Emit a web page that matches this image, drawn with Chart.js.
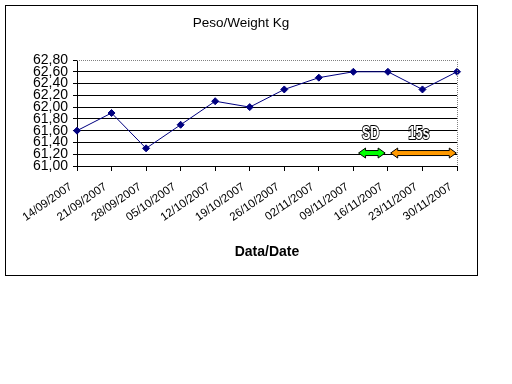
<!DOCTYPE html>
<html>
<head>
<meta charset="utf-8">
<script src="https://cdn.jsdelivr.net/npm/chart.js@4/dist/chart.umd.min.js"></script>
<style>
  body { margin: 0; background: #fff; }
  #wrap { width: 512px; height: 384px; }
</style>
</head>
<body>
<div id="wrap"><canvas id="weightChart" width="512" height="384"></canvas></div>
<script>
// Données
const dates = ['14/09/2007', '21/09/2007', '28/09/2007', '05/10/2007', '12/10/2007', '19/10/2007',
               '26/10/2007', '02/11/2007', '09/11/2007', '16/11/2007', '23/11/2007', '30/11/2007'];
const weights = [61.6, 61.9, 61.3, 61.7, 62.1, 62.0, 62.3, 62.5, 62.6, 62.6, 62.3, 62.6];
const yTicks = [61.0, 61.2, 61.4, 61.6, 61.8, 62.0, 62.2, 62.4, 62.6, 62.8];

// Annotations (flèches SD / 15s), en unités de l'axe
const notes = [
    { label: 'SD',  from: 8.15, to: 8.92, textAt: 8.5,  color: '#00ff00' },
    { label: '15s', from: 9.08, to: 10.98, textAt: 9.9,  color: '#ff9900' }
];
const arrowLevel = 61.22;
const textLevel = 61.54;

function drawArrow(ctx, x1, x2, y, color) {
    const hl = 7, hh = 5, sh = 2.5;
    ctx.beginPath();
    ctx.moveTo(x1, y);
    ctx.lineTo(x1 + hl, y - hh);
    ctx.lineTo(x1 + hl, y - sh);
    ctx.lineTo(x2 - hl, y - sh);
    ctx.lineTo(x2 - hl, y - hh);
    ctx.lineTo(x2, y);
    ctx.lineTo(x2 - hl, y + hh);
    ctx.lineTo(x2 - hl, y + sh);
    ctx.lineTo(x1 + hl, y + sh);
    ctx.lineTo(x1 + hl, y + hh);
    ctx.closePath();
    ctx.fillStyle = color;
    ctx.fill();
    ctx.strokeStyle = '#000';
    ctx.lineWidth = 1;
    ctx.stroke();
}

const decorPlugin = {
    id: 'decor',
    beforeDraw(chart) {
        const ctx = chart.ctx;
        ctx.save();
        ctx.fillStyle = '#fff';
        ctx.fillRect(0, 0, chart.width, chart.height);
        ctx.strokeStyle = '#000';
        ctx.lineWidth = 1;
        ctx.strokeRect(5.5, 5.5, 472, 270);
        // titre
        ctx.fillStyle = '#000';
        ctx.font = '13.5px "Liberation Sans", Arial, sans-serif';
        ctx.textAlign = 'center';
        ctx.textBaseline = 'middle';
        ctx.fillText('Peso/Weight Kg', 241, 23);
        ctx.restore();
    },
    afterDraw(chart) {
        const ctx = chart.ctx;
        const a = chart.chartArea;
        const x = chart.scales.x, y = chart.scales.y;
        ctx.save();
        // bordure pointillée de la zone de tracé
        ctx.strokeStyle = '#808080';
        ctx.lineWidth = 1;
        ctx.setLineDash([1, 1]);
        ctx.beginPath();
        ctx.moveTo(a.left, Math.round(a.top) + 0.5);
        ctx.lineTo(Math.round(a.right) + 0.5, Math.round(a.top) + 0.5);
        ctx.lineTo(Math.round(a.right) + 0.5, a.bottom);
        ctx.stroke();
        ctx.setLineDash([]);

        const ya = y.getPixelForValue(arrowLevel);
        const yt = y.getPixelForValue(textLevel);
        notes.forEach(n => {
            drawArrow(ctx, x.getPixelForValue(n.from), x.getPixelForValue(n.to), ya, n.color);
            ctx.save();
            ctx.translate(x.getPixelForValue(n.textAt), yt);
            ctx.scale(0.7, 1);
            ctx.font = 'bold 18px "Liberation Sans", Arial, sans-serif';
            ctx.textAlign = 'center';
            ctx.textBaseline = 'middle';
            ctx.lineWidth = 2;
            ctx.strokeStyle = '#000';
            ctx.strokeText(n.label, 0, 0);
            ctx.fillStyle = '#fff';
            ctx.fillText(n.label, 0, 0);
            ctx.restore();
        });
        ctx.restore();
    }
};

Chart.defaults.font.family = '"Liberation Sans", Arial, sans-serif';
Chart.defaults.color = '#000';

const ctx = document.getElementById('weightChart').getContext('2d');
new Chart(ctx, {
    type: 'line',
    data: {
        labels: dates,
        datasets: [{
            data: weights,
            borderColor: '#000080',
            backgroundColor: '#000080',
            borderWidth: 1,
            pointStyle: 'rectRot',
            pointRadius: 3.5,
            pointHoverRadius: 3.5,
            tension: 0,
            clip: false
        }]
    },
    options: {
        responsive: false,
        animation: false,
        layout: { padding: { left: 5, right: 55, top: 60, bottom: 109 } },
        plugins: {
            legend: { display: false },
            tooltip: { enabled: false }
        },
        scales: {
            x: {
                offset: false,
                grid: { drawOnChartArea: false, color: '#000', tickLength: 5 },
                border: { color: '#000', width: 1 },
                ticks: { autoSkip: false, minRotation: 35, maxRotation: 35, font: { size: 11.5 }, padding: 9, labelOffset: -6 },
                title: { display: true, text: 'Data/Date', font: { size: 14, weight: 'bold' }, padding: { top: 0, bottom: 14 } },
                afterFit(scale) { scale.height = 109; }
            },
            y: {
                min: 61.0,
                max: 62.8,
                afterBuildTicks(scale) { scale.ticks = yTicks.map(v => ({ value: v })); },
                grid: {
                    color: c => (c.tick && c.tick.value === 62.8) ? 'rgba(0,0,0,0)' : '#000',
                    tickColor: '#000',
                    tickLength: 4
                },
                border: { color: '#000', width: 1 },
                ticks: {
                    autoSkip: false,
                    font: { size: 14 },
                    padding: 5,
                    callback: v => Number(v).toFixed(2).replace('.', ',')
                },
                afterFit(scale) { scale.width = 72; }
            }
        }
    },
    plugins: [decorPlugin]
});
</script>
</body>
</html>
